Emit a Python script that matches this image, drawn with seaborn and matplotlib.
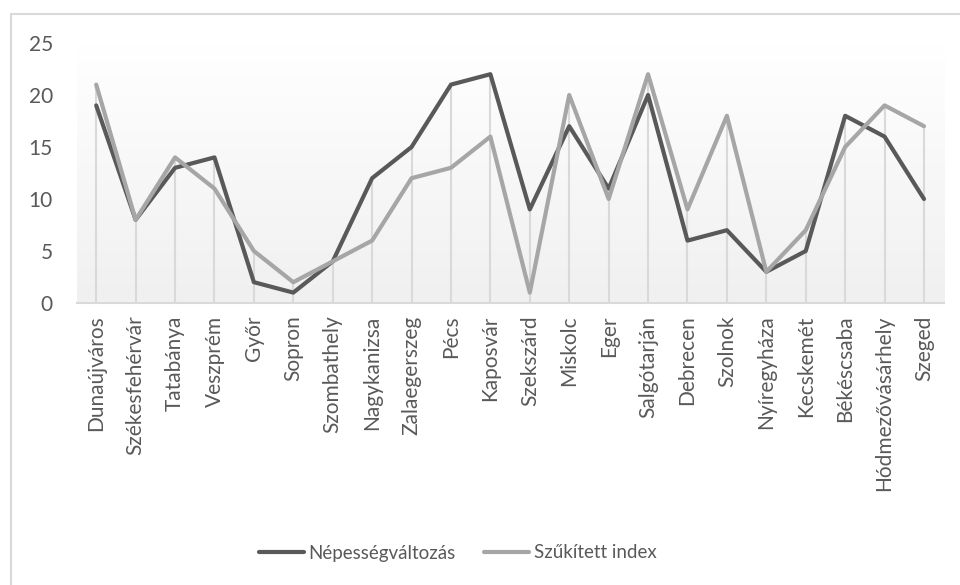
import numpy as np
import pandas as pd
import matplotlib
matplotlib.use("Agg")
import matplotlib.pyplot as plt
import seaborn as sns
from matplotlib.patches import Rectangle

cities = ["Dunaújváros", "Székesfehérvár", "Tatabánya", "Veszprém", "Győr", "Sopron",
          "Szombathely", "Nagykanizsa", "Zalaegerszeg", "Pécs", "Kaposvár", "Szekszárd",
          "Miskolc", "Eger", "Salgótarján", "Debrecen", "Szolnok", "Nyíregyháza",
          "Kecskemét", "Békéscsaba", "Hódmezővásárhely", "Szeged"]
nepesseg = [19, 8, 13, 14, 2, 1, 4, 12, 15, 21, 22, 9, 17, 11, 20, 6, 7, 3, 5, 18, 16, 10]
szukitett = [21, 8, 14, 11, 5, 2, 4, 6, 12, 13, 16, 1, 20, 10, 22, 9, 18, 3, 7, 15, 19, 17]
series_names = ["Népességváltozás", "Szűkített index"]
yticks = [0, 5, 10, 15, 20, 25]

df = pd.DataFrame({
    "város": cities * 2,
    "érték": nepesseg + szukitett,
    "sorozat": [series_names[0]] * len(cities) + [series_names[1]] * len(cities),
})

sns.set_theme(style="white")
plt.rcParams["font.family"] = ["Lato", "DejaVu Sans"]

W, H = 960, 585
fig = plt.figure(figsize=(9.6, 5.85), dpi=100)
ax = fig.add_axes([76.5 / W, 1 - 303 / H, (943.7 - 76.5) / W, (303 - 43) / H])

# gradient background of plot area
grad = np.linspace(0, 1, 256).reshape(-1, 1)
cmap = matplotlib.colors.LinearSegmentedColormap.from_list("g", ["#ffffff", "#f0f0f0"])
ax.imshow(grad, extent=[0, 1, 0, 1], transform=ax.transAxes, cmap=cmap,
          aspect="auto", origin="upper", zorder=0)

text_col = "#595959"

# drop lines from the axis up to the higher of the two series
tops = df.groupby("város", sort=False)["érték"].max().reindex(cities)
ax.vlines(np.arange(len(cities)), 0, tops.values, colors="#d9d9d9", linewidth=1.5, zorder=1)

sns.lineplot(data=df, x="város", y="érték", hue="sorozat", sort=False,
             palette={series_names[0]: "#595959", series_names[1]: "#a6a6a6"},
             linewidth=3.0, ax=ax, legend=True, zorder=3)

ax.set_xlim(-0.5, len(cities) - 0.5)
ax.set_ylim(0, 25)
ax.set_yticks(yticks)
ax.set_xticks(range(len(cities)))
ax.set_xticklabels(cities, rotation=90, ha="center", va="top")
ax.set_xlabel("")
ax.set_ylabel("")
ax.grid(False)
for s in ["top", "right", "left"]:
    ax.spines[s].set_visible(False)
ax.spines["bottom"].set_color("#d9d9d9")
ax.spines["bottom"].set_linewidth(1.5)
ax.tick_params(axis="y", length=0, pad=17, labelsize=15, labelcolor=text_col)
ax.tick_params(axis="x", length=0, pad=9, labelsize=15, labelcolor=text_col)

handles, labels = ax.get_legend_handles_labels()
ax.get_legend().remove()
leg = fig.legend(handles, labels, loc="center", bbox_to_anchor=(457.5 / W, 1 - 553 / H),
                 ncol=2, frameon=False, fontsize=13.5, handlelength=2.4,
                 handletextpad=0.25, columnspacing=1.5)
for t in leg.get_texts():
    t.set_color(text_col)

# chart border
fig.patches.append(Rectangle((11 / W, -0.1), 1.2, 1 - 14 / H + 0.1, transform=fig.transFigure,
                             fill=False, edgecolor="#d9d9d9", linewidth=1.5))

fig.savefig("out.png", dpi=100)
